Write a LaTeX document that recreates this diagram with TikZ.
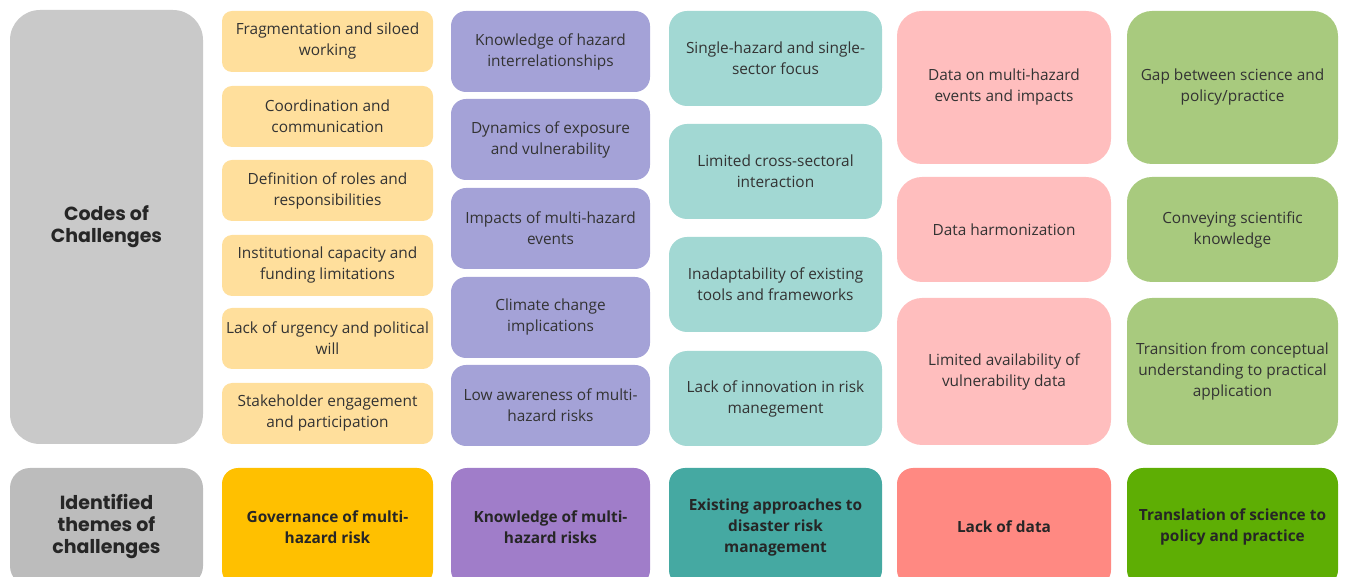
\documentclass[tikz,border=0pt]{standalone}
\usepackage{fontspec}
\setmainfont{Open Sans}
\newfontfamily\headfont{Poppins}
\definecolor{hdgray}{HTML}{C9C9C9}
\definecolor{thgray}{HTML}{BCBCBC}
\definecolor{govlight}{HTML}{FFDF9C}
\definecolor{govdark}{HTML}{FFC000}
\definecolor{knolight}{HTML}{A4A2D7}
\definecolor{knodark}{HTML}{A07DC9}
\definecolor{applight}{HTML}{A2D8D3}
\definecolor{appdark}{HTML}{45A9A2}
\definecolor{datlight}{HTML}{FFBEBE}
\definecolor{datdark}{HTML}{FF8982}
\definecolor{scilight}{HTML}{A8CA7E}
\definecolor{scidark}{HTML}{5EAE04}
\definecolor{txtgray}{HTML}{333333}
\begin{document}
\begin{tikzpicture}[>=latex,line join=bevel,
  codebox/.style={draw=none,rounded corners=#1,align=center,text=txtgray,
    inner sep=0pt,font=\fontsize{15.4bp}{21bp}\selectfont},
  themebox/.style={draw=none,rounded corners=16bp,align=center,text=black!85,
    inner sep=0pt,minimum height=118bp,font=\fontsize{15.4bp}{21bp}\selectfont\bfseries},
  headbox/.style={draw=none,rounded corners=30bp,align=center,text=black!85,
    inner sep=0pt,minimum width=193bp,font=\headfont\fontsize{19bp}{22bp}\selectfont\bfseries},]
%%
\useasboundingbox (0bp,0bp) rectangle (1359bp,577bp);
\clip (0bp,0bp) rectangle (1359bp,577bp);
%% row headers
\node (codes) at (106.5bp,350bp) [headbox,fill=hdgray,minimum height=434bp] {Codes of\\Challenges};
  \node (themes) at (106.5bp,50bp) [headbox,fill=thgray,minimum height=118bp,rounded corners=20bp] {Identified\\themes of\\challenges};
%% governance
\node (gov_1) at (327.5bp,535.5bp) [codebox=10bp,fill=govlight,minimum width=211bp,minimum height=61bp] {Fragmentation and siloed\\working};
  \node (gov_2) at (327.5bp,460.5bp) [codebox=10bp,fill=govlight,minimum width=211bp,minimum height=61bp] {Coordination and\\communication};
  \node (gov_3) at (327.5bp,386.5bp) [codebox=10bp,fill=govlight,minimum width=211bp,minimum height=61bp] {Definition of roles and\\responsibilities};
  \node (gov_4) at (327.5bp,311.5bp) [codebox=10bp,fill=govlight,minimum width=211bp,minimum height=61bp] {Institutional capacity and\\funding limitations};
  \node (gov_5) at (327.5bp,238.5bp) [codebox=10bp,fill=govlight,minimum width=211bp,minimum height=61bp] {Lack of urgency and political\\will};
  \node (gov_6) at (327.5bp,163.5bp) [codebox=10bp,fill=govlight,minimum width=211bp,minimum height=61bp] {Stakeholder engagement\\and participation};
  \node (gov_theme) at (327.5bp,50bp) [themebox,fill=govdark,minimum width=211bp] {Governance of multi-\\hazard risk};
%% knowledge
\node (kno_1) at (550.5bp,525.5bp) [codebox=15bp,fill=knolight,minimum width=199bp,minimum height=81bp] {Knowledge of hazard\\interrelationships};
  \node (kno_2) at (550.5bp,437.5bp) [codebox=15bp,fill=knolight,minimum width=199bp,minimum height=81bp] {Dynamics of exposure\\and vulnerability};
  \node (kno_3) at (550.5bp,348.5bp) [codebox=15bp,fill=knolight,minimum width=199bp,minimum height=81bp] {Impacts of multi-hazard\\events};
  \node (kno_4) at (550.5bp,259.5bp) [codebox=15bp,fill=knolight,minimum width=199bp,minimum height=81bp] {Climate change\\implications};
  \node (kno_5) at (550.5bp,171.5bp) [codebox=15bp,fill=knolight,minimum width=199bp,minimum height=81bp] {Low awareness of multi-\\hazard risks};
  \node (kno_theme) at (550.5bp,50bp) [themebox,fill=knodark,minimum width=199bp] {Knowledge of multi-\\hazard risks};
%% approaches
\node (app_1) at (775.5bp,518.5bp) [codebox=18bp,fill=applight,minimum width=213bp,minimum height=95bp] {Single-hazard and single-\\sector focus};
  \node (app_2) at (775.5bp,405.5bp) [codebox=18bp,fill=applight,minimum width=213bp,minimum height=95bp] {Limited cross-sectoral\\interaction};
  \node (app_3) at (775.5bp,292.5bp) [codebox=18bp,fill=applight,minimum width=213bp,minimum height=95bp] {Inadaptability of existing\\tools and frameworks};
  \node (app_4) at (775.5bp,178.5bp) [codebox=18bp,fill=applight,minimum width=213bp,minimum height=95bp] {Lack of innovation in risk\\manegement};
  \node (app_theme) at (775.5bp,50bp) [themebox,fill=appdark,minimum width=213bp] {Existing approaches to\\disaster risk\\management};
%% data
\node (dat_1) at (1004bp,489.5bp) [codebox=25bp,fill=datlight,minimum width=214bp,minimum height=153bp] {Data on multi-hazard\\events and impacts};
  \node (dat_2) at (1004bp,347.5bp) [codebox=25bp,fill=datlight,minimum width=214bp,minimum height=105bp] {Data harmonization};
  \node (dat_3) at (1004bp,205.5bp) [codebox=25bp,fill=datlight,minimum width=214bp,minimum height=147bp] {Limited availability of\\vulnerability data};
  \node (dat_theme) at (1004bp,50bp) [themebox,fill=datdark,minimum width=214bp] {Lack of data};
%% science
\node (sci_1) at (1232.5bp,489.5bp) [codebox=25bp,fill=scilight,minimum width=211bp,minimum height=153bp] {Gap between science and\\policy/practice};
  \node (sci_2) at (1232.5bp,347.5bp) [codebox=25bp,fill=scilight,minimum width=211bp,minimum height=105bp] {Conveying scientific\\knowledge};
  \node (sci_3) at (1232.5bp,205.5bp) [codebox=25bp,fill=scilight,minimum width=211bp,minimum height=147bp] {Transition from conceptual\\understanding to practical\\application};
  \node (sci_theme) at (1232.5bp,50bp) [themebox,fill=scidark,minimum width=211bp] {Translation of science to\\policy and practice};
%
\end{tikzpicture}
\end{document}
